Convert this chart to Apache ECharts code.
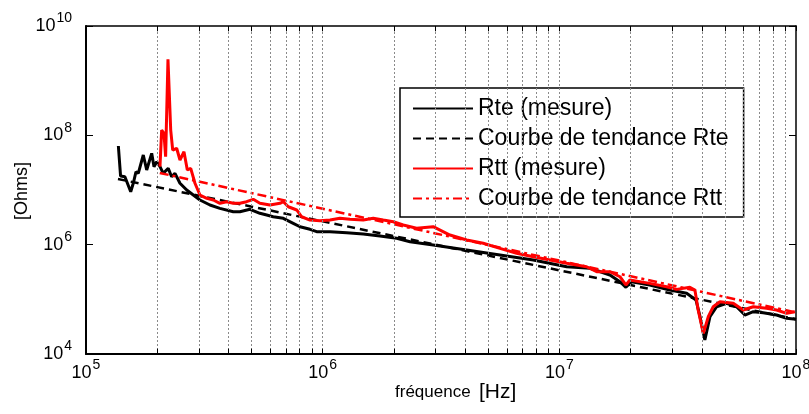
<!DOCTYPE html>
<html>
<head>
<meta charset="utf-8">
<script src="https://cdn.jsdelivr.net/npm/echarts@6/dist/echarts.min.js"></script>
<style>
  html, body { margin: 0; padding: 0; background: #fff; }
  #main { width: 809px; height: 414px; }
</style>
</head>
<body>
<div id="main"></div>
<script>
// Rte (mesure) - noir
const rteFreq = [1.37e5, 1.40e5, 1.46e5, 1.545e5, 1.585e5, 1.626e5, 1.663e5, 1.746e5, 1.805e5, 1.895e5,
  1.938e5, 1.99e5, 2.054e5, 2.12e5, 2.226e5, 2.30e5, 2.377e5, 2.495e5, 2.664e5, 2.84e5,
  3.03e5, 3.34e5, 3.68e5, 4.19e5, 4.47e5, 4.93e5, 5.43e5, 5.80e5, 6.18e5, 6.82e5,
  7.51e5, 8.02e5, 8.84e5, 9.43e5, 1.074e6, 1.263e6, 1.484e6, 1.746e6, 2.055e6, 2.34e6,
  2.93e6, 4.06e6, 5.61e6, 7.76e6, 1.074e7, 1.347e7, 1.636e7, 1.803e7, 1.911e7, 2.02e7,
  2.41e7, 2.93e7, 3.45e7, 3.78e7, 3.93e7, 4.12e7, 4.33e7, 4.62e7, 5.09e7, 5.61e7,
  6.08e7, 6.60e7, 7.27e7, 8.28e7, 9.13e7, 1e8];
const rteOhm = [6.38e7, 1.80e7, 1.75e7, 9.3e6, 1.34e7, 2.16e7, 2.02e7, 4.37e7, 2.32e7, 4.69e7,
  2.67e7, 3.29e7, 2.67e7, 2.02e7, 2.49e7, 1.75e7, 2.02e7, 1.33e7, 1.0e7, 8.09e6,
  6.56e6, 5.31e6, 4.62e6, 4.01e6, 4.01e6, 4.44e6, 3.75e6, 3.49e6, 3.25e6, 3.03e6,
  2.46e6, 2.13e6, 1.91e6, 1.73e6, 1.73e6, 1.66e6, 1.57e6, 1.44e6, 1.31e6, 1.13e6,
  9.86e5, 7.98e5, 6.47e5, 5.24e5, 3.95e5, 3.70e5, 2.79e5, 2.10e5, 1.66e5, 2.10e5,
  1.83e5, 1.48e5, 1.29e5, 9.73e4, 4.81e4, 1.80e4, 4.81e4, 7.33e4, 8.45e4, 7.33e4,
  5.16e4, 5.94e4, 5.69e4, 5.16e4, 4.50e4, 4.32e4];

// Courbe de tendance Rte
const rteTrendFreq = [1.365e5, 1e8];
const rteTrendOhm = [1.59e7, 4.32e4];

// Rtt (mesure) - rouge
const rttFreq = [2.054e5, 2.088e5, 2.135e5, 2.17e5, 2.22e5, 2.28e5, 2.325e5, 2.416e5, 2.495e5, 2.594e5,
  2.68e5, 2.77e5, 2.887e5, 3.03e5, 3.24e5, 3.45e5, 3.68e5, 3.93e5, 4.19e5, 4.47e5,
  4.77e5, 5.09e5, 5.43e5, 5.99e5, 6.60e5, 6.82e5, 7.16e5, 7.77e5, 8.15e5, 8.84e5,
  9.74e5, 1.074e6, 1.183e6, 1.304e6, 1.484e6, 1.636e6, 1.803e6, 1.988e6, 2.19e6, 2.495e6,
  2.93e6, 3.45e6, 4.06e6, 4.77e6, 5.61e6, 6.60e6, 7.76e6, 9.13e6, 1.074e7, 1.304e7,
  1.438e7, 1.636e7, 1.803e7, 1.911e7, 1.987e7, 2.41e7, 2.84e7, 3.13e7, 3.56e7, 3.74e7,
  3.86e7, 4.06e7, 4.26e7, 4.47e7, 4.77e7, 5.43e7, 5.98e7, 6.60e7, 7.51e7, 8.28e7,
  9.13e7, 9.9e7];
const rttOhm = [2.67e7, 1.25e8, 1.09e8, 4.06e7, 2.46e9, 1.25e8, 5.38e7, 5.80e7, 3.54e7, 5.01e7,
  2.32e7, 2.49e7, 1.33e7, 8.09e6, 7.05e6, 6.56e6, 5.71e6, 6.11e6, 5.71e6, 5.71e6,
  6.11e6, 6.76e6, 5.71e6, 5.31e6, 5.71e6, 6.11e6, 4.94e6, 4.31e6, 3.24e6, 2.82e6,
  2.74e6, 2.82e6, 3.03e6, 2.91e6, 2.82e6, 3.03e6, 2.82e6, 2.63e6, 2.29e6, 1.99e6,
  2.13e6, 1.50e6, 1.22e6, 1.06e6, 8.57e5, 6.95e5, 6.03e5, 5.24e5, 4.56e5, 3.95e5,
  3.20e5, 3.20e5, 2.59e5, 1.83e5, 2.26e5, 1.96e5, 1.70e5, 1.52e5, 1.66e5, 1.48e5,
  6.38e4, 2.39e4, 4.81e4, 7.33e4, 9.06e4, 8.45e4, 6.38e4, 7.33e4, 6.85e4, 6.38e4,
  5.55e4, 5.94e4];

// Courbe de tendance Rtt
const rttTrendFreq = [2.05e5, 1e8];
const rttTrendOhm = [2.05e7, 5.74e4];

// grille verticale (2..9 x 10^n)
const gridFreqs = [2e5, 3e5, 4e5, 5e5, 6e5, 7e5, 8e5, 9e5, 1e6,
  2e6, 3e6, 4e6, 5e6, 6e6, 7e6, 8e6, 9e6, 1e7,
  2e7, 3e7, 4e7, 5e7, 6e7, 7e7, 8e7, 9e7];

const names = ['Rte (mesure)', 'Courbe de tendance Rte', 'Rtt (mesure)', 'Courbe de tendance Rtt'];

const FONT = 'Liberation Sans, Arial, sans-serif';
const pairs = (xs, ys) => xs.map((x, i) => [x, ys[i]]);
const powLabel = v => '{b|10}{s|' + Math.round(Math.log10(v)) + '}';
const richPow = {
  b: { fontSize: 18, lineHeight: 18, fontFamily: FONT, color: '#000' },
  s: { fontSize: 14, lineHeight: 14, padding: [0, 0, 15, 1], fontFamily: FONT, color: '#000' }
};

const MyChart = echarts.init(document.getElementById('main'), null, { renderer: 'canvas' });

const lineSeries = (name, data, color, type, width, z) => ({
  name: name,
  type: 'line',
  data: data,
  showSymbol: false,
  symbol: 'none',
  z: z,
  lineStyle: { color: color, width: width, type: type },
  itemStyle: { color: color }
});

// petites graduations en bas et en haut, aux positions de la grille
const minorTickLine = (edge) => gridFreqs.map(f => [
  { coord: [f, edge === 'bottom' ? 1e4 : 1e10] },
  { coord: [f, edge === 'bottom' ? 1.25e4 : 8e9] }
]);

let option = {
  animation: false,
  backgroundColor: '#fff',
  grid: { left: 86, right: 13, top: 26, bottom: 60, outerBoundsMode: 'none', containLabel: false },
  legend: {
    data: names,
    orient: 'vertical',
    left: 400,
    top: 88,
    padding: [9, 15, 7, 12],
    itemWidth: 60,
    itemHeight: 14,
    itemGap: 7,
    backgroundColor: '#fff',
    borderColor: '#000',
    borderWidth: 1.5,
    borderRadius: 0,
    itemStyle: { color: 'rgba(0,0,0,0)', borderWidth: 0, opacity: 0 },
    textStyle: { fontSize: 23, fontFamily: FONT, color: '#000', lineHeight: 23 }
  },
  xAxis: [
    {
      type: 'log', logBase: 10, min: 1e5, max: 1e8, interval: 1,
      axisLine: { lineStyle: { color: '#000', width: 2 } },
      axisTick: { inside: true, length: 5, lineStyle: { color: '#000' } },
      splitLine: { show: false },
      axisLabel: { margin: 10, formatter: powLabel, rich: richPow }
    },
    {
      type: 'log', logBase: 10, min: 1e5, max: 1e8, interval: 1, position: 'top',
      axisLine: { lineStyle: { color: '#000', width: 1.5 } },
      axisTick: { inside: true, length: 5, lineStyle: { color: '#000' } },
      splitLine: { show: false },
      axisLabel: { show: false }
    }
  ],
  yAxis: [
    {
      type: 'log', logBase: 10, min: 1e4, max: 1e10, interval: 2,
      axisLine: { lineStyle: { color: '#000', width: 2 } },
      axisTick: { inside: true, length: 7, lineStyle: { color: '#000' } },
      splitLine: { show: false },
      axisLabel: { margin: 14, formatter: powLabel, rich: richPow }
    },
    {
      type: 'log', logBase: 10, min: 1e4, max: 1e10, interval: 2, position: 'right',
      axisLine: { lineStyle: { color: '#000', width: 1.5 } },
      axisTick: { inside: true, length: 7, lineStyle: { color: '#000' } },
      splitLine: { show: false },
      axisLabel: { show: false }
    }
  ],
  series: [
    {
      name: 'grid',
      type: 'line',
      data: [],
      z: 1,
      silent: true,
      markLine: {
        silent: true,
        symbol: ['none', 'none'],
        label: { show: false },
        lineStyle: { color: '#8a8a8a', width: 1, type: [2, 2] },
        data: gridFreqs.map(f => ({ xAxis: f }))
      }
    },
    {
      name: 'ticks',
      type: 'line',
      data: [],
      z: 5,
      silent: true,
      markLine: {
        silent: true,
        symbol: ['none', 'none'],
        label: { show: false },
        lineStyle: { color: '#000', width: 1, type: 'solid' },
        data: minorTickLine('bottom').concat(minorTickLine('top'))
      }
    },
    lineSeries(names[0], pairs(rteFreq, rteOhm), '#000', 'solid', 3, 3),
    lineSeries(names[1], pairs(rteTrendFreq, rteTrendOhm), '#000', [8, 5], 2.5, 3),
    lineSeries(names[2], pairs(rttFreq, rttOhm), '#ff0000', 'solid', 3, 4),
    lineSeries(names[3], pairs(rttTrendFreq, rttTrendOhm), '#ff0000', [9, 4, 3, 4], 2.5, 4)
  ],
  graphic: [
    {
      type: 'text', x: 22, y: 191, rotation: Math.PI / 2,
      style: { text: '[Ohms]', fontSize: 18, fontFamily: FONT, fill: '#000', textAlign: 'center', textVerticalAlign: 'middle' }
    },
    {
      type: 'text', x: 395, y: 392,
      style: { text: 'fréquence', fontSize: 17, fontFamily: FONT, fill: '#000', textAlign: 'left', textVerticalAlign: 'middle' }
    },
    {
      type: 'text', x: 479, y: 392,
      style: { text: '[Hz]', fontSize: 21, fontFamily: FONT, fill: '#000', textAlign: 'left', textVerticalAlign: 'middle' }
    }
  ]
};

MyChart.setOption(option);
</script>
</body>
</html>
